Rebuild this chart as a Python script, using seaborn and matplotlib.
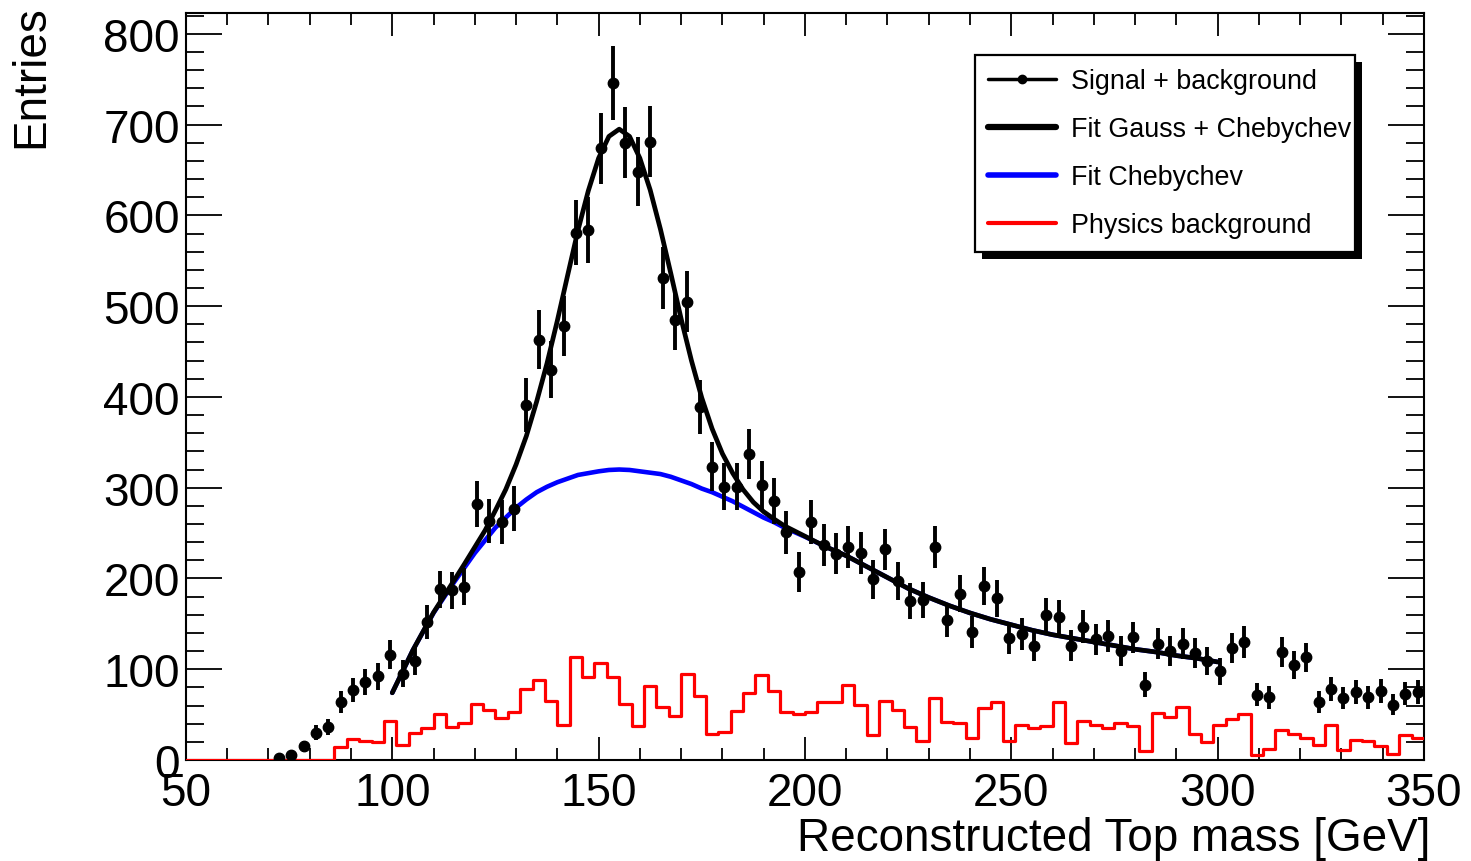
import numpy as np
import pandas as pd
import matplotlib
matplotlib.use('Agg')
import matplotlib.pyplot as plt
from matplotlib.lines import Line2D
from matplotlib.patches import Rectangle
from matplotlib.ticker import MultipleLocator
from matplotlib.transforms import IdentityTransform
import seaborn as sns

# binning: 3 GeV bins from 50 to 350
bin_lo, bin_hi, bin_w = 50, 350, 3

# signal + background counts, first filled bin centre at 72.5 GeV
sig_first_center = 72.5
sig_counts = [2, 5, 15, 30, 36, 64, 77, 86, 92, 116,
              95, 109, 152, 188, 187, 191, 282, 263, 262, 277,
              391, 463, 430, 478, 581, 584, 674, 746, 680, 648,
              681, 531, 485, 505, 389, 323, 301, 301, 337, 303,
              285, 251, 207, 262, 237, 227, 235, 228, 199, 232,
              197, 175, 176, 235, 154, 183, 141, 192, 178, 134,
              139, 126, 160, 157, 126, 147, 133, 137, 120, 135,
              83, 128, 120, 128, 118, 109, 98, 123, 130, 72,
              69, 119, 105, 113, 64, 78, 68, 75, 69, 76,
              61, 73, 75]
err_scale = 1.5  # event weight factor on sqrt(N)

# physics background histogram (all 100 bins)
phys_bkg = [0, 0, 0, 0, 0, 0, 0, 0, 0, 0, 0, 0,
            14, 23, 21, 19.5, 43, 16.5, 30, 35, 51, 36,
            41, 62, 55, 46, 53, 78, 88, 65, 38, 113,
            91, 107, 91, 62, 37, 81, 58, 48, 95, 70,
            29, 31, 54, 74, 94, 76, 53, 51, 53, 64,
            64, 83, 61, 28, 65, 55, 36, 21, 68, 42,
            41, 24, 57, 64, 21, 39, 35, 37, 64, 19,
            43, 39, 35, 41, 37, 10, 52, 47, 58, 29,
            19.5, 38, 45, 51, 5.5, 12, 33, 29, 24, 16,
            39, 11, 22, 21, 15, 7, 27.5, 24]

# fitted curves
fit_x = [100, 105, 110, 115, 117.5, 120, 122.5, 125, 127.5, 130,
         132.5, 135, 137.5, 140, 142.5, 145, 147.5, 150, 152.5, 155,
         157.5, 160, 162.5, 165, 167.5, 170, 172.5, 175, 177.5, 180,
         182.5, 185, 187.5, 190, 192.5, 195, 200, 205, 210, 215,
         220, 225, 230, 235, 240, 245, 250, 255, 260, 265,
         270, 275, 280, 285, 290, 295, 300]
cheb_fit = [74, 121, 162, 196, 212, 228, 242, 256, 267, 278,
            287, 295, 301, 306, 310, 314, 316, 318, 319.5, 320,
            319.5, 318, 316.5, 315, 312, 308, 304, 299, 295, 290,
            285, 279, 273, 267, 262, 256, 246, 235, 225, 213,
            201, 189, 179, 170, 162, 155, 149, 143, 138, 134,
            130, 126, 122, 119, 115, 112, 108]
total_fit = [74, 121, 162.5, 198, 216, 234.5, 253, 275, 298, 325.5,
             357, 395, 437, 484, 534, 583.5, 627, 663, 687, 695,
             687, 663, 628, 584.5, 536, 486, 440, 399, 365, 337.5,
             316, 298, 284, 273.5, 265.5, 258, 246.5, 235, 225, 213,
             201, 189, 179, 170, 162, 155, 149, 143, 138, 134,
             130, 126, 122, 119, 115, 112, 108]

legend_labels = ['Signal + background', 'Fit Gauss + Chebychev',
                 'Fit Chebychev', 'Physics background']

sns.set_style('ticks')
plt.rcParams['font.family'] = ['Liberation Sans', 'DejaVu Sans']
plt.rcParams['text.color'] = 'black'
plt.rcParams['axes.labelcolor'] = 'black'
plt.rcParams['xtick.color'] = 'black'
plt.rcParams['ytick.color'] = 'black'

bin_edges = np.arange(bin_lo, bin_hi + 1, bin_w)
bin_centers = bin_edges[:-1] + bin_w / 2
sig_x = np.arange(len(sig_counts)) * bin_w + sig_first_center
sig_err = err_scale * np.sqrt(np.array(sig_counts, dtype=float))

bkg_df = pd.DataFrame({'mass': bin_centers, 'entries': phys_bkg})

fig = plt.figure(figsize=(14.71, 8.62), dpi=100)
ax = fig.add_axes([0.1264, 0.1172, 0.8416, 0.8666])
ax.patch.set_facecolor('white')

sns.histplot(data=bkg_df, x='mass', weights='entries', bins=list(bin_edges),
             element='step', fill=False, color='red', linewidth=2.3, ax=ax,
             zorder=2.6)
sns.lineplot(x=fit_x, y=cheb_fit, color='blue', linewidth=3.3, ax=ax, zorder=3)
ax.errorbar(sig_x, sig_counts, yerr=sig_err, fmt='o', color='black', ms=7.5,
            elinewidth=2.8, capsize=0, zorder=4)
sns.lineplot(x=fit_x, y=total_fit, color='black', linewidth=3.4, ax=ax, zorder=5)

ax.set_xlim(bin_lo, bin_hi)
ax.set_ylim(0, 823)

ax.xaxis.set_major_locator(MultipleLocator(50))
ax.xaxis.set_minor_locator(MultipleLocator(10))
ax.yaxis.set_major_locator(MultipleLocator(100))
ax.yaxis.set_minor_locator(MultipleLocator(20))
ax.tick_params(which='both', direction='in', top=True, right=True,
               labelsize=33, width=1.3, color='black', labelcolor='black')
ax.tick_params(axis='x', which='major', length=16.5, pad=8)
ax.tick_params(axis='x', which='minor', length=8.6)
ax.tick_params(axis='y', which='major', length=26, pad=4.5)
ax.tick_params(axis='y', which='minor', length=13)
for sp in ax.spines.values():
    sp.set_linewidth(1.5)
    sp.set_color('black')

ax.set_xlabel('Reconstructed Top mass [GeV]', fontsize=33, loc='right')
ax.xaxis.set_label_coords(1.005, -0.075)
ax.set_ylabel('Entries', fontsize=33, loc='top')
ax.yaxis.set_label_coords(-0.1074, 1.012)

handles = [Line2D([], [], color='black', lw=2.5, marker='o', ms=6),
           Line2D([], [], color='black', lw=4.5),
           Line2D([], [], color='blue', lw=4),
           Line2D([], [], color='red', lw=3)]
leg = ax.legend(handles, legend_labels, loc='upper left',
                bbox_to_anchor=(0.6373, 0.9438, 0.307, 0), mode='expand',
                fontsize=19.4, frameon=True, fancybox=False, framealpha=1,
                edgecolor='black', borderaxespad=0, handlelength=2.5,
                handletextpad=0.55, labelspacing=0.815, borderpad=0.5,
                numpoints=1)
leg.get_frame().set_linewidth(1.6)
leg.set_zorder(10)

# ROOT style solid shadow behind the legend box
fig.canvas.draw()
bb = leg.get_window_extent()
shadow = Rectangle((bb.x0 + 7, bb.y0 - 7), bb.width, bb.height,
                   transform=IdentityTransform(), facecolor='black',
                   edgecolor='none', zorder=9, clip_on=False)
ax.add_artist(shadow)

fig.savefig('out.png', dpi=100, facecolor='white')
